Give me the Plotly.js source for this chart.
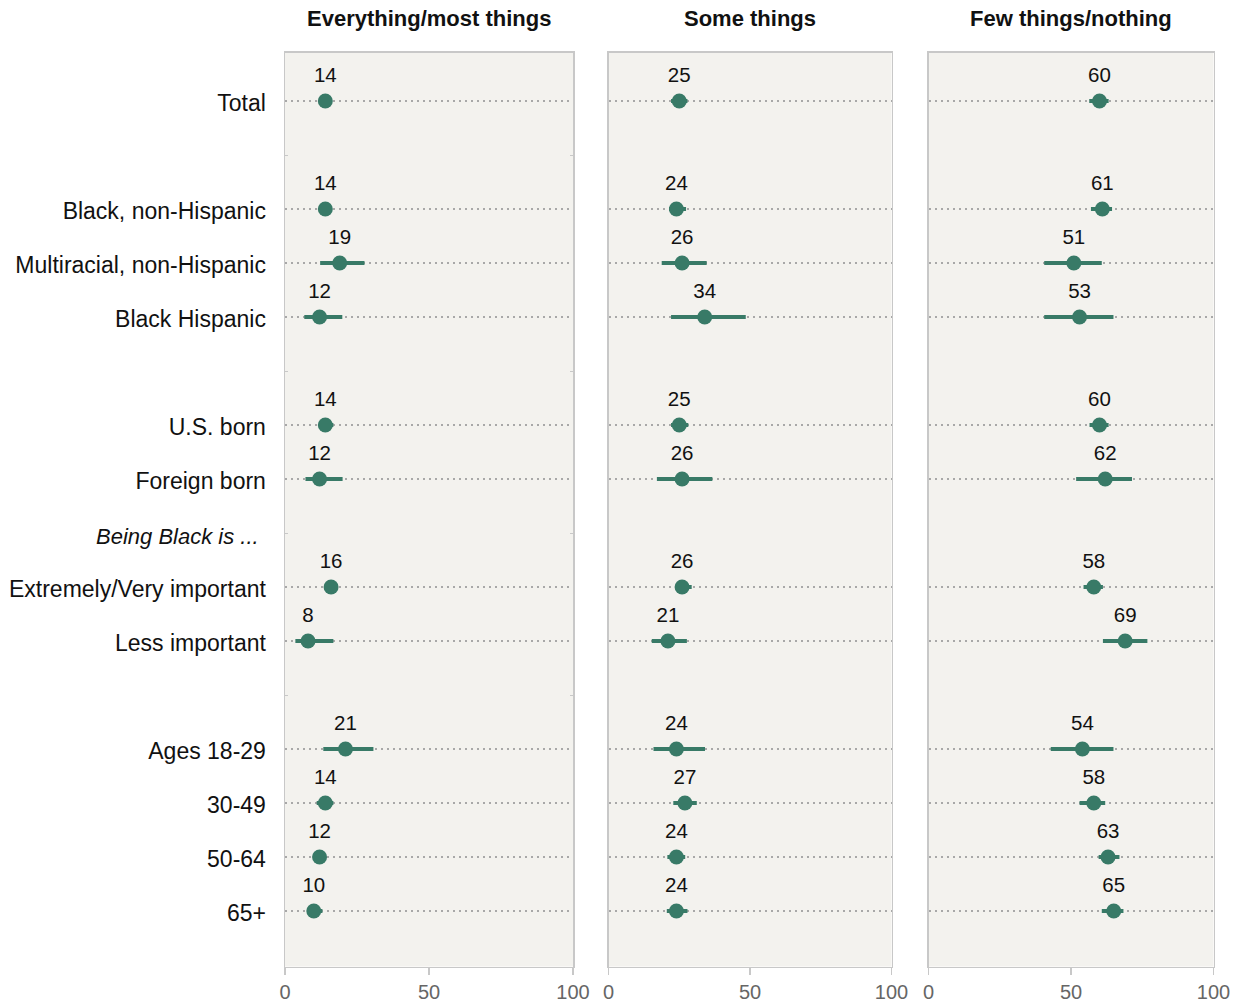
<!DOCTYPE html>
<html>
<head>
<meta charset="utf-8">
<script src="https://cdn.plot.ly/plotly-3.0.1.min.js"></script>
<style>html,body{margin:0;padding:0;background:#fff;}#chart{width:1243px;height:1007px;}</style>
</head>
<body>
<div id="chart"></div>
<script>
// Row layout (empty strings are spacer rows)
const rowLabels = ["Total", "", "Black, non-Hispanic", "Multiracial, non-Hispanic", "Black Hispanic", "",
  "U.S. born", "Foreign born", "Being Black is ...", "Extremely/Very important", "Less important", "",
  "Ages 18-29", "30-49", "50-64", "65+"];
const sectionLabel = "Being Black is ...";

const categories = ["Total", "Black, non-Hispanic", "Multiracial, non-Hispanic", "Black Hispanic",
  "U.S. born", "Foreign born", "Extremely/Very important", "Less important",
  "Ages 18-29", "30-49", "50-64", "65+"];

const panelTitles = ["Everything/most things", "Some things", "Few things/nothing"];

const everything = [14, 14, 19, 12, 14, 12, 16, 8, 21, 14, 12, 10];
const everythingLow = [12, 12, 12.2, 6.7, 12, 7.1, 14, 3.6, 13.3, 11, 10, 8];
const everythingHigh = [16, 16, 27.6, 19.9, 16.8, 20, 18, 16.8, 30.7, 16.8, 14, 13];

const some = [25, 24, 26, 34, 25, 26, 26, 21, 24, 27, 24, 24];
const someLow = [22.1, 21.4, 18.8, 22.1, 22.1, 17.1, 23.5, 15.3, 15.9, 22.9, 20.8, 20.6];
const someHigh = [27.9, 27.4, 34.7, 48.5, 28.2, 36.7, 29.4, 27.7, 34.1, 31.2, 27.1, 27.9];

const few = [60, 61, 51, 53, 60, 62, 58, 69, 54, 58, 63, 65];
const fewLow = [56.4, 57, 40.6, 40.6, 56.5, 51.8, 54.4, 61.2, 42.9, 53, 59.7, 60.8];
const fewHigh = [63.2, 64.4, 60.8, 64.9, 63.2, 71.4, 61.2, 76.8, 64.9, 62, 67, 68.4];

const xTickVals = [0, 50, 100];

const GREEN = "#387a67";
const FONT = "Liberation Sans, Arial, sans-serif";
const yPos = categories.map(c => rowLabels.indexOf(c));
const spacerRows = rowLabels.map((l, i) => (l === "" || l === sectionLabel) ? i : null).filter(v => v !== null);

const series = [
  {v: everything, lo: everythingLow, hi: everythingHigh, xa: "x"},
  {v: some, lo: someLow, hi: someHigh, xa: "x2"},
  {v: few, lo: fewLow, hi: fewHigh, xa: "x3"}
];

const traces = [];
series.forEach(s => {
  traces.push({
    type: "scatter",
    mode: "markers",
    x: s.v, y: yPos,
    xaxis: s.xa, yaxis: "y",
    marker: {size: 15, color: GREEN},
    error_x: {
      type: "data", symmetric: false,
      array: s.v.map((v, i) => s.hi[i] - v),
      arrayminus: s.v.map((v, i) => v - s.lo[i]),
      thickness: 4, width: 0, color: GREEN
    },
    cliponaxis: false, hoverinfo: "skip", showlegend: false
  });
  // value labels (invisible larger markers push the text up)
  traces.push({
    type: "scatter",
    mode: "markers+text",
    x: s.v, y: yPos,
    xaxis: s.xa, yaxis: "y",
    text: s.v.map(String),
    textposition: "top center",
    textfont: {family: FONT, size: 20.5, color: "#111"},
    marker: {size: 21, color: "rgba(0,0,0,0)"},
    cliponaxis: false, hoverinfo: "skip", showlegend: false
  });
});

const W = 1243, H = 1007;
const panelsPx = [[285, 573], [608.5, 891.5], [928.5, 1213.5]];
const yTop = 52.5, yBot = 966.5;

function xaxisDef(i) {
  return {
    domain: [panelsPx[i][0] / W, panelsPx[i][1] / W],
    range: [0, 100],
    anchor: "y",
    tickvals: xTickVals,
    ticktext: xTickVals.map(String),
    ticks: "outside", ticklen: 7, tickwidth: 1.5, tickcolor: "#c8c8c8",
    tickfont: {family: FONT, size: 20, color: "#666"},
    showgrid: false, zeroline: false,
    showline: true, linecolor: "#c8c8c8", linewidth: 1.5, mirror: true,
    fixedrange: true
  };
}

const labelRows = rowLabels.map((l, i) => i).filter(i => rowLabels[i] !== "" && rowLabels[i] !== sectionLabel);

const layout = {
  width: W, height: H,
  margin: {l: 0, r: 0, t: 0, b: 0},
  paper_bgcolor: "#ffffff",
  plot_bgcolor: "#f3f2ee",
  showlegend: false,
  font: {family: FONT, color: "#111"},
  xaxis: xaxisDef(0),
  xaxis2: xaxisDef(1),
  xaxis3: xaxisDef(2),
  yaxis: {
    domain: [1 - yBot / H, 1 - yTop / H],
    range: [(yBot - 101) / 54, (yTop - 101) / 54],
    anchor: "x",
    tickmode: "array",
    tickvals: labelRows,
    ticktext: labelRows.map(i => rowLabels[i]),
    ticks: "",
    ticklabelstandoff: 13,
    ticklabelshift: -2,
    tickfont: {family: FONT, size: 23, color: "#111"},
    showgrid: true, gridcolor: "#a8a8a8", gridwidth: 2, griddash: "2px,4px",
    zeroline: false,
    showline: true, linecolor: "#c8c8c8", linewidth: 1.5, mirror: "all",
    minor: {tickmode: "array", tickvals: spacerRows, ticks: "inside", ticklen: 3, tickcolor: "#c8c8c8", showgrid: false},
    fixedrange: true
  },
  annotations: panelTitles.map((t, i) => ({
    text: "<b>" + t + "</b>",
    xref: (i === 0 ? "x" : "x" + (i + 1)) + " domain", x: 0.5,
    yref: "paper", y: 1 - 19 / H, yanchor: "middle", xanchor: "center",
    showarrow: false,
    font: {family: FONT, size: 22, color: "#111"}
  })).concat([{
    text: "<i>" + sectionLabel + "</i>",
    xref: "x domain", x: 0, xanchor: "right", xshift: -24,
    yref: "y", y: rowLabels.indexOf(sectionLabel), yanchor: "middle", yshift: -3,
    showarrow: false,
    font: {family: FONT, size: 22, color: "#111"}
  }])
};

Plotly.newPlot("chart", traces, layout, {displayModeBar: false, staticPlot: true});
</script>
</body>
</html>
